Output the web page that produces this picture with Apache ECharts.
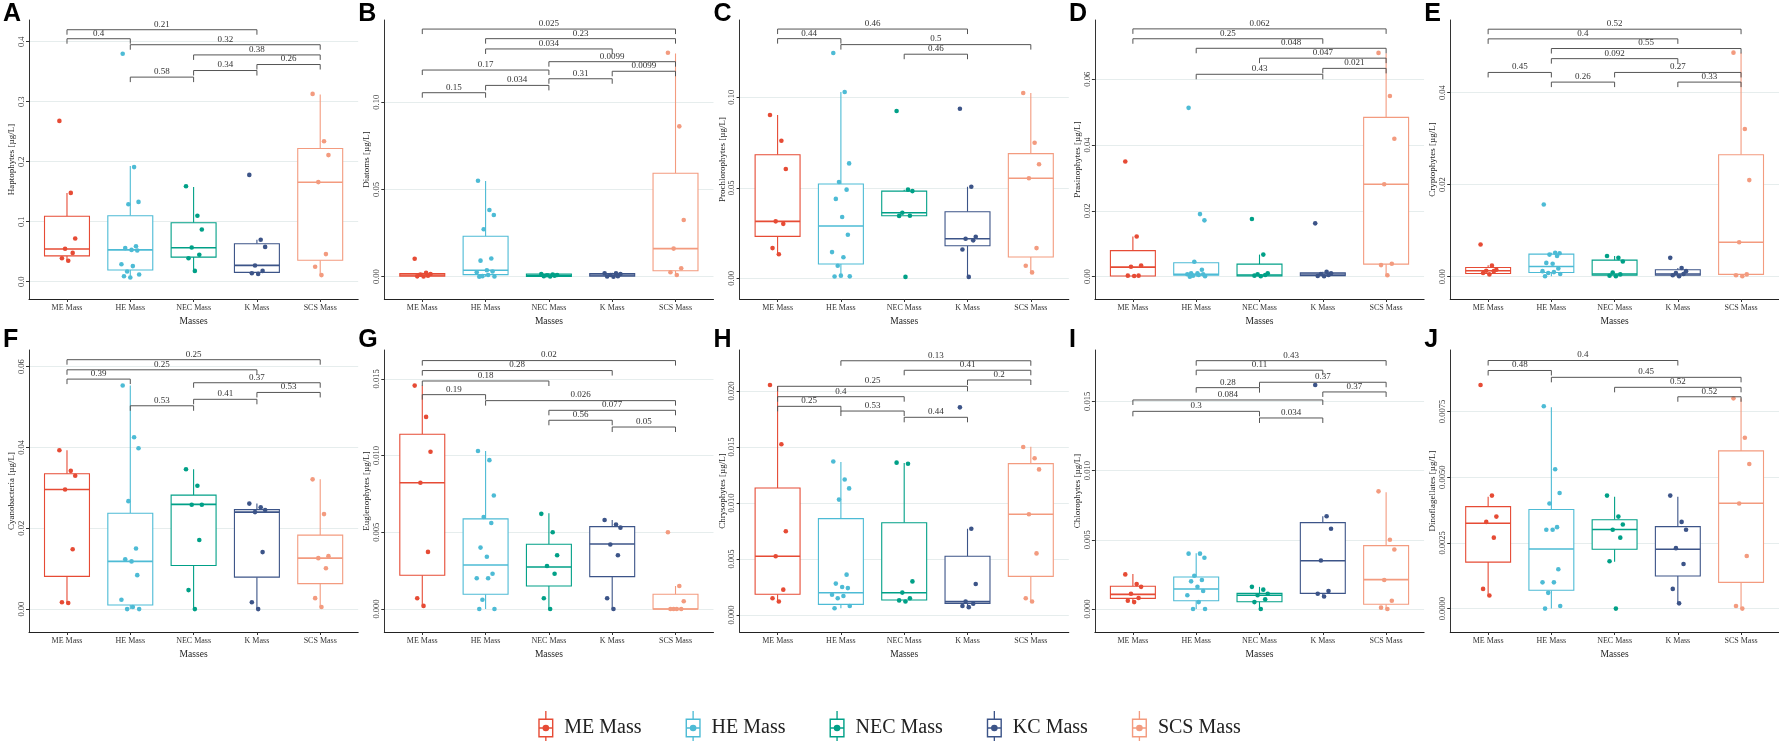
<!DOCTYPE html>
<html><head><meta charset="utf-8">
<script src="https://cdn.jsdelivr.net/npm/echarts@6/dist/echarts.min.js"></script>
<style>html,body{margin:0;padding:0;background:#fff}#c{width:1779px;height:741px}</style>
</head><body><div id="c"></div>
<script>
const legendNames = ['ME Mass','HE Mass','NEC Mass','KC Mass','SCS Mass'];
const xLabels = ['ME Mass','HE Mass','NEC Mass','K Mass','SCS Mass'];
const colors = ['#E64B35','#4DBBD5','#00A087','#3C5488','#F39B7F'];
const letters = ['A','B','C','D','E','F','G','H','I','J'];
const yTitles = ['Haptophytes [µg/L]','Diatoms [µg/L]','Prochlorophytes [µg/L]','Prasinophytes [µg/L]','Cryptophytes [µg/L]',
  'Cyanobacteria [µg/L]','Euglenophytes [µg/L]','Chrysophytes [µg/L]','Chlorophytes [µg/L]','Dinoflagellates [µg/L]'];

// box stats per group: [lower whisker, Q1, median, Q3, upper whisker]
const box_A = [[0.035,0.043,0.0545,0.109,0.148],[0.007,0.0195,0.053,0.110,0.193],[0.018,0.041,0.0567,0.0983,0.158],[0.013,0.0156,0.0273,0.0633,0.070],[0.010,0.0357,0.1657,0.222,0.312]];
const pts_A = [[0.268,0.148,0.072,0.055,0.048,0.039,0.035],[0.380,0.191,0.133,0.129,0.059,0.056,0.053,0.052,0.029,0.026,0.017,0.012,0.009,0.007],[0.159,0.110,0.087,0.057,0.045,0.039,0.018],[0.178,0.070,0.058,0.027,0.018,0.014,0.013],[0.313,0.234,0.211,0.166,0.046,0.025,0.011]];
const ticks_A = ['0.0','0.1','0.2','0.3','0.4'];
const brk_A = [[1,4,0.420,'0.21'],[1,2,0.405,'0.4'],[2,5,0.395,'0.32'],[3,5,0.378,'0.38'],[4,5,0.362,'0.26'],[3,4,0.352,'0.34'],[2,3,0.341,'0.58']];
const range_A = [-0.0288,0.4362];

const box_B = [[0,0.0003,0.001,0.0018,0.0022],[0,0.0012,0.0037,0.0232,0.0549],[0,0.0002,0.0008,0.0015,0.002],[0,0.0003,0.001,0.0018,0.0022],[0.0005,0.0034,0.0161,0.0593,0.128]];
const pts_B = [[0.0103,0.0022,0.0015,0.0012,0.0005,0.0002,0.0001],[0.055,0.0382,0.0354,0.0272,0.0104,0.0092,0.0037,0.003,0.0025,0.001,0.0003,0.0001,0],[0.0015,0.0012,0.001,0.0008,0.0005,0.0003,0.0001],[0.002,0.0019,0.0015,0.001,0.0003,0.0001,0],[0.1284,0.0862,0.0325,0.0161,0.0048,0.0025,0.001]];
const ticks_B = ['0.00','0.05','0.10'];
const brk_B = [[1,5,0.142,'0.025'],[2,5,0.1365,'0.23'],[2,4,0.1306,'0.034'],[3,5,0.1233,'0.0099'],[1,3,0.1185,'0.17'],[4,5,0.1178,'0.0099'],[3,4,0.1135,'0.31'],[2,3,0.1097,'0.034'],[1,2,0.1055,'0.15']];
const range_B = [-0.0128,0.1472];

const box_C = [[0.0133,0.0232,0.0315,0.0683,0.0902],[0.001,0.0079,0.0289,0.0521,0.1029],[0.0346,0.0346,0.0362,0.0482,0.049],[0.0008,0.018,0.0219,0.0368,0.0506],[0.0033,0.0118,0.0553,0.0689,0.1024]];
const pts_C = [[0.0902,0.076,0.0604,0.0315,0.0301,0.0167,0.0133],[0.1245,0.1029,0.0635,0.0532,0.049,0.0439,0.0339,0.0241,0.0145,0.0117,0.007,0.0011,0.001,0.0015],[0.0924,0.049,0.0482,0.0362,0.0346,0.0345,0.0008],[0.0937,0.0506,0.023,0.0219,0.021,0.0159,0.0008],[0.1024,0.0749,0.063,0.0553,0.0167,0.007,0.0033]];
const ticks_C = ['0.00','0.05','0.10'];
const brk_C = [[1,4,0.1377,'0.46'],[1,2,0.1324,'0.44'],[2,5,0.1291,'0.5'],[3,4,0.1238,'0.46']];
const range_C = [-0.0114,0.1427];

const box_D = [[0.0002,0.0002,0.0029,0.0079,0.0122],[0,0.0004,0.0007,0.0042,0.0045],[0.0001,0.0002,0.0005,0.0038,0.0067],[0.0001,0.0003,0.0008,0.0012,0.0015],[0.0004,0.0038,0.0281,0.0484,0.0679]];
const pts_D = [[0.035,0.0122,0.0034,0.003,0.0003,0.0003,0.0002],[0.0513,0.019,0.0171,0.0045,0.0021,0.001,0.001,0.0007,0.0007,0.0005,0.0003,0.0001,0],[0.0175,0.0067,0.001,0.0007,0.0005,0.0003,0.0001],[0.0162,0.0015,0.001,0.0008,0.0005,0.0002,0.0001],[0.068,0.0549,0.0419,0.0281,0.0039,0.0035,0.0004]];
const ticks_D = ['0.00','0.02','0.04','0.06'];
const brk_D = [[1,5,0.0753,'0.062'],[1,4,0.0723,'0.25'],[2,5,0.0694,'0.048'],[3,5,0.0664,'0.047'],[4,5,0.0633,'0.021'],[2,4,0.0615,'0.43']];
const range_D = [-0.0068,0.0780];

const box_E = [[0.0005,0.0007,0.0013,0.002,0.0025],[0.0001,0.0009,0.0022,0.0049,0.0052],[0.0001,0.0003,0.0006,0.0036,0.0045],[0.0001,0.0003,0.0006,0.0015,0.0019],[0.0001,0.0005,0.0075,0.0265,0.0487]];
const pts_E = [[0.007,0.0024,0.0015,0.0013,0.0012,0.0008,0.0005],[0.0157,0.0052,0.0051,0.0048,0.0045,0.003,0.0028,0.0018,0.0012,0.001,0.0008,0.0006,0.0001],[0.0045,0.0041,0.0033,0.0009,0.0005,0.0002,0.0001],[0.0041,0.0019,0.0012,0.0008,0.0006,0.0003,0.0001],[0.0487,0.0321,0.021,0.0075,0.0005,0.0003,0.0001]];
const ticks_E = ['0.00','0.02','0.04'];
const brk_E = [[1,5,0.0538,'0.52'],[1,4,0.0517,'0.4'],[2,5,0.0496,'0.55'],[2,4,0.0474,'0.092'],[1,2,0.0444,'0.45'],[3,5,0.0444,'0.27'],[2,3,0.0423,'0.26'],[4,5,0.0423,'0.33']];
const range_E = [-0.00485,0.0558];

const box_F = [[0.0015,0.0081,0.0296,0.0335,0.0393],[0,0.001,0.0118,0.0237,0.0553],[0,0.0108,0.0259,0.0282,0.0346],[0,0.0079,0.024,0.0246,0.0261],[0.0005,0.0063,0.0126,0.0183,0.0321]];
const pts_F = [[0.0393,0.0342,0.033,0.0296,0.0148,0.0017,0.0015],[0.0553,0.0425,0.0398,0.0267,0.015,0.0123,0.0118,0.0084,0.0023,0.0005,0,0],[0.0346,0.0305,0.0258,0.0258,0.0171,0.0047,0],[0.0261,0.0252,0.0245,0.024,0.0141,0.0017,0],[0.0321,0.0235,0.0131,0.0126,0.0101,0.0027,0.0005]];
const ticks_F = ['0.00','0.02','0.04','0.06'];
const brk_F = [[1,5,0.0617,'0.25'],[1,4,0.0592,'0.25'],[1,2,0.0569,'0.39'],[3,5,0.056,'0.37'],[4,5,0.0536,'0.53'],[3,4,0.0519,'0.41'],[2,3,0.0503,'0.53']];
const range_F = [-0.00567,0.0641];

const box_G = [[0.0002,0.0022,0.00823,0.01139,0.01456],[0,0.00096,0.00287,0.00587,0.0103],[0,0.0015,0.00274,0.00422,0.00624],[0,0.00211,0.00424,0.00537,0.0058],[0,0,0,0.00096,0.0015]];
const pts_G = [[0.01456,0.01252,0.01025,0.00823,0.00372,0.0007,0.0002],[0.0103,0.0097,0.0074,0.006,0.0056,0.004,0.0034,0.0023,0.002,0.002,0.0006,0,0],[0.0062,0.005,0.0035,0.0028,0.0023,0.0007,0],[0.0058,0.0055,0.0053,0.0042,0.0035,0.0007,0],[0.005,0.0015,0.0005,0,0,0,0]];
const ticks_G = ['0.000','0.005','0.010','0.015'];
const brk_G = [[1,5,0.01619,'0.02'],[1,4,0.01554,'0.28'],[1,3,0.01486,'0.18'],[1,2,0.01397,'0.19'],[2,5,0.01358,'0.026'],[3,5,0.01295,'0.077'],[3,4,0.0123,'0.56'],[4,5,0.01186,'0.05']];
const range_G = [-0.0015,0.01688];

const box_H = [[0.0012,0.00185,0.00524,0.01134,0.02045],[0.0006,0.00095,0.00199,0.0086,0.01366],[0.0012,0.00134,0.00199,0.00824,0.01357],[0.0007,0.00104,0.00119,0.00524,0.0077],[0.0012,0.00345,0.00899,0.01351,0.01503]];
const pts_H = [[0.02054,0.01524,0.00747,0.00524,0.00226,0.0015,0.0012],[0.0137,0.0121,0.0113,0.0103,0.0036,0.0028,0.0025,0.0024,0.0018,0.0017,0.0015,0.0008,0.0006],[0.0136,0.0135,0.003,0.002,0.0015,0.0013,0.0012],[0.01854,0.0077,0.00277,0.0012,0.001,0.0008,0.0007],[0.015,0.014,0.013,0.009,0.0055,0.0015,0.0012]];
const ticks_H = ['0.000','0.005','0.010','0.015','0.020'];
const brk_H = [[2,5,0.0227,'0.13'],[3,5,0.02185,'0.41'],[4,5,0.02098,'0.2'],[1,4,0.02042,'0.25'],[1,3,0.01949,'0.4'],[1,2,0.01863,'0.25'],[2,3,0.01821,'0.53'],[3,4,0.01765,'0.44']];
const range_H = [-0.00152,0.02366];

const box_I = [[0.0005,0.00077,0.00106,0.00164,0.00253],[0,0.0006,0.00145,0.00231,0.00402],[0,0.00053,0.00099,0.00113,0.0016],[0.0009,0.00113,0.00349,0.00624,0.0067],[0,0.00034,0.00212,0.00458,0.00843]];
const pts_I = [[0.0025,0.0018,0.0016,0.0011,0.0008,0.0006,0.0005],[0.004,0.004,0.0037,0.0024,0.0021,0.002,0.0016,0.0013,0.001,0.0005,0,0],[0.0016,0.0014,0.0011,0.001,0.0007,0.0005,0],[0.01618,0.0067,0.0058,0.0035,0.0013,0.0011,0.0009],[0.0085,0.005,0.0043,0.0021,0.0006,0.0001,0]];
const ticks_I = ['0.000','0.005','0.010','0.015'];
const brk_I = [[2,5,0.01794,'0.43'],[2,4,0.01725,'0.11'],[3,5,0.01638,'0.37'],[2,3,0.01599,'0.28'],[4,5,0.01568,'0.37'],[1,4,0.0151,'0.084'],[1,3,0.01428,'0.3'],[3,4,0.0138,'0.034']];
const range_I = [-0.00166,0.01871];

const box_J = [[0.0005,0.00177,0.00325,0.00388,0.00426],[0,0.0007,0.00227,0.00377,0.00766],[0.00178,0.00226,0.00301,0.00338,0.00426],[0.0002,0.00124,0.00226,0.00312,0.00426],[0,0.001,0.00401,0.006,0.008]];
const pts_J = [[0.00851,0.0043,0.0035,0.0033,0.0027,0.00075,0.0005],[0.0077,0.0053,0.0044,0.004,0.0031,0.003,0.003,0.0015,0.001,0.001,0.0006,0.0001,0],[0.0043,0.0035,0.0032,0.003,0.0027,0.0018,0],[0.0043,0.0033,0.003,0.0023,0.0017,0.00075,0.0002],[0.008,0.0065,0.0055,0.004,0.002,0.0001,0]];
const ticks_J = ['0.0000','0.0025','0.0050','0.0075'];
const brk_J = [[1,4,0.00944,'0.4'],[1,2,0.00906,'0.48'],[2,5,0.0088,'0.45'],[3,5,0.00842,'0.52'],[4,5,0.00806,'0.52']];
const range_J = [-0.00089,0.00984];

const boxes = [box_A,box_B,box_C,box_D,box_E,box_F,box_G,box_H,box_I,box_J];
const points = [pts_A,pts_B,pts_C,pts_D,pts_E,pts_F,pts_G,pts_H,pts_I,pts_J];
const tickSets = [ticks_A,ticks_B,ticks_C,ticks_D,ticks_E,ticks_F,ticks_G,ticks_H,ticks_I,ticks_J];
const brackets = [brk_A,brk_B,brk_C,brk_D,brk_E,brk_F,brk_G,brk_H,brk_I,brk_J];
const ranges = [range_A,range_B,range_C,range_D,range_E,range_F,range_G,range_H,range_I,range_J];

// style / layout constants
const JIT = [-0.12,0.06,0.13,-0.03,0.09,-0.08,0.02,0.11,-0.14,0.04,-0.05,0.14,-0.10,0.0];
const BOXW = 0.355;
const SERIF = 'Liberation Serif';
const PANEL_DX = 355.3, AX_LEFT = 29, PW = 329.2;
const ROW_TOP = [20, 350], ROW_H = [279, 282];

const grids = [], xAxes = [], yAxes = [], series = [], graphics = [];
for (let i = 0; i < 10; i++) {
  const col = i % 5, row = Math.floor(i / 5);
  const left = AX_LEFT + col * PANEL_DX;
  grids.push({left: left, top: ROW_TOP[row], width: PW, height: ROW_H[row]});
  const tv = tickSets[i].map(parseFloat);
  const tl = tickSets[i];
  xAxes.push({
    gridIndex: i, type: 'value', min: 0.4, max: 5.6,
    axisLine: {show: true, onZero: false, lineStyle: {color: '#222', width: 1}},
    axisTick: {show: true, customValues: [1,2,3,4,5], length: 3, lineStyle: {color: '#333'}},
    axisLabel: {show: true, customValues: [1,2,3,4,5], formatter: v => xLabels[Math.round(v) - 1],
      fontFamily: SERIF, fontSize: 8, color: '#333', margin: 5},
    splitLine: {show: false},
    name: 'Masses', nameLocation: 'middle', nameGap: 17,
    nameTextStyle: {fontFamily: SERIF, fontSize: 9.5, color: '#222'}
  });
  yAxes.push({
    gridIndex: i, type: 'value', min: ranges[i][0], max: ranges[i][1],
    axisLine: {show: true, onZero: false, lineStyle: {color: '#333', width: 1}},
    axisTick: {show: true, customValues: tv, length: 3, lineStyle: {color: '#333'}},
    axisLabel: {show: true, customValues: tv, rotate: 90, margin: 3,
      formatter: v => { let k = 0, d = 1e9; tv.forEach((t, j) => { if (Math.abs(t - v) < d) { d = Math.abs(t - v); k = j; } }); return tl[k]; },
      fontFamily: SERIF, fontSize: 8.5, color: '#333'},
    splitLine: {show: true, lineStyle: {color: '#e6eded', width: 1}},
    name: yTitles[i], nameLocation: 'middle', nameGap: 10,
    nameTextStyle: {fontFamily: SERIF, fontSize: 9, color: '#222'}
  });
  // boxes
  series.push({
    type: 'custom', xAxisIndex: i, yAxisIndex: i, z: 2, silent: true,
    data: boxes[i].map((b, g) => [g + 1].concat(b)),
    encode: {x: 0, y: [1,2,3,4,5]},
    renderItem: (params, api) => {
      const x = api.value(0), c = colors[x - 1];
      const lo = api.value(1), q1 = api.value(2), md = api.value(3), q3 = api.value(4), hi = api.value(5);
      const a = api.coord([x, hi]), b = api.coord([x, q3]), cc = api.coord([x, q1]), d = api.coord([x, lo]);
      const tl = api.coord([x - BOXW, q3]), br = api.coord([x + BOXW, q1]);
      const ml = api.coord([x - BOXW, md]), mr = api.coord([x + BOXW, md]);
      return {type: 'group', children: [
        {type: 'line', shape: {x1: a[0], y1: a[1], x2: b[0], y2: b[1]}, style: {stroke: c, lineWidth: 1.1}},
        {type: 'line', shape: {x1: cc[0], y1: cc[1], x2: d[0], y2: d[1]}, style: {stroke: c, lineWidth: 1.1}},
        {type: 'rect', shape: {x: tl[0], y: tl[1], width: br[0] - tl[0], height: br[1] - tl[1]}, style: {fill: '#fff', stroke: c, lineWidth: 1.1}},
        {type: 'line', shape: {x1: ml[0], y1: ml[1], x2: mr[0], y2: mr[1]}, style: {stroke: c, lineWidth: 1.6}}
      ]};
    }
  });
  // points
  for (let g = 0; g < 5; g++) {
    series.push({
      type: 'scatter', name: legendNames[g], xAxisIndex: i, yAxisIndex: i, z: 3, silent: true,
      symbolSize: 4.6, itemStyle: {color: colors[g], opacity: 1},
      data: points[i][g].map((v, k) => [g + 1 + JIT[k % JIT.length], v])
    });
  }
  // significance brackets
  const brk = brackets[i];
  series.push({
    type: 'custom', xAxisIndex: i, yAxisIndex: i, z: 4, silent: true,
    data: brk.map(b => [b[0], b[1], b[2]]),
    encode: {x: [0, 1], y: 2},
    renderItem: (params, api) => {
      const p1 = api.coord([api.value(0), api.value(2)]), p2 = api.coord([api.value(1), api.value(2)]);
      const lab = brk[params.dataIndex][3];
      return {type: 'group', children: [
        {type: 'polyline', shape: {points: [[p1[0], p1[1] + 5], [p1[0], p1[1]], [p2[0], p2[1]], [p2[0], p2[1] + 5]]},
          style: {stroke: '#555', lineWidth: 1, fill: null}},
        {type: 'text', x: (p1[0] + p2[0]) / 2, y: p1[1] - 1,
          style: {text: lab, fill: '#333', font: '9px "Liberation Serif"', textAlign: 'center', textVerticalAlign: 'bottom'}}
      ]};
    }
  });
  graphics.push({type: 'text', left: col * PANEL_DX + 3, top: row ? 328 : 2,
    style: {text: letters[i], font: 'bold 25px "Liberation Sans"', fill: '#000'}});
}

const legendIcon = 'path://M2,8L18,8L18,28L2,28Z M3.5,9.5L3.5,26.5L16.5,26.5L16.5,9.5Z M9.3,0L10.7,0L10.7,8L9.3,8Z M9.3,28L10.7,28L10.7,36L9.3,36Z M3.5,17.3L16.5,17.3L16.5,18.7L3.5,18.7Z M6.5,18A3.5,3.5 0 1,1 13.5,18A3.5,3.5 0 1,1 6.5,18Z';

const chart = echarts.init(document.getElementById('c'), null, {renderer: 'canvas'});
chart.setOption({
  animation: false,
  backgroundColor: '#fff',
  grid: grids, xAxis: xAxes, yAxis: yAxes, series: series,
  graphic: graphics,
  legend: {
    data: legendNames, top: 706, left: 'center', itemWidth: 19, itemHeight: 34, itemGap: 44,
    icon: legendIcon, selectedMode: false,
    textStyle: {fontFamily: SERIF, fontSize: 20, color: '#222', padding: [0, 0, 0, 4]}
  }
});
</script></body></html>
